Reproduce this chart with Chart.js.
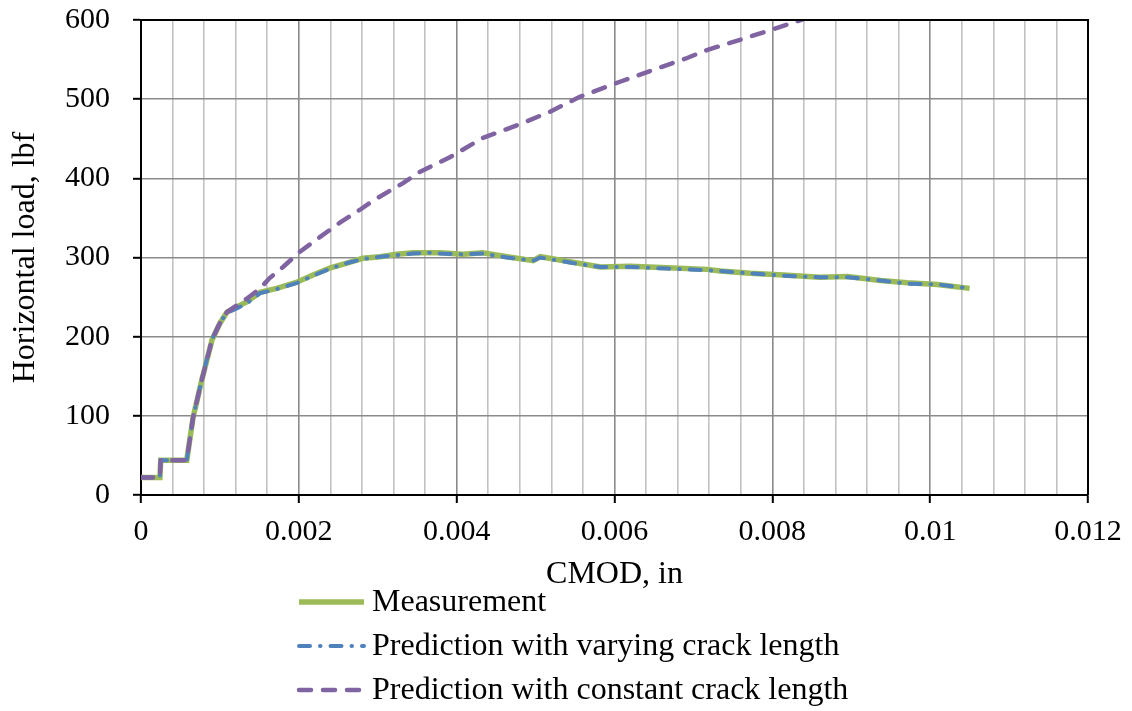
<!DOCTYPE html>
<html>
<head>
<meta charset="utf-8">
<script src="https://cdn.jsdelivr.net/npm/chart.js@4.4.1/dist/chart.umd.min.js"></script>
<style>
  html, body { margin: 0; padding: 0; background: #fff; }
  #wrap { width: 1132px; height: 711px; }
</style>
</head>
<body>
<div id="wrap"><canvas id="line-chart" width="1132" height="711"></canvas></div>
<script>
// CMOD (in) and horizontal load (lbf)
var measX = [0, 0.00024, 0.00025, 0.00058, 0.00066, 0.00077, 0.0009, 0.001, 0.00109, 0.00122, 0.00134, 0.00151, 0.00172, 0.00198, 0.00218, 0.0024, 0.00261, 0.00281, 0.00303, 0.00324, 0.00345, 0.00366, 0.00379, 0.00408, 0.00433, 0.00464, 0.00497, 0.00506, 0.00547, 0.00582, 0.0062, 0.00667, 0.00717, 0.00734, 0.00772, 0.00814, 0.0086, 0.00895, 0.00937, 0.00971, 0.01009, 0.0105];
var measY = [22, 22, 44, 44, 98, 145, 196, 217, 231, 238, 244, 256, 261, 269, 278, 287, 293, 299, 301, 304, 306, 306, 306, 304, 306, 301, 296, 301, 294, 288, 289, 287, 285, 283, 280, 278, 275, 276, 271, 268, 266, 261];

var varyX = measX;
var varyY = [22, 22, 44, 44, 98, 146, 197, 218, 230, 236, 242, 255, 260, 268, 277, 286, 293, 298, 301, 303, 305, 306, 305, 304, 305, 300, 296, 300, 293, 288, 288, 286, 284, 283, 280, 277, 275, 275, 271, 267, 266, 261];

var constX = [0, 0.00024, 0.00025, 0.00058, 0.00066, 0.00077, 0.0009, 0.001, 0.00109, 0.00122, 0.00134, 0.00151, 0.00163, 0.0018, 0.00201, 0.00227, 0.00252, 0.00277, 0.00296, 0.00332, 0.00353, 0.00392, 0.00433, 0.00455, 0.00484, 0.00518, 0.00556, 0.00607, 0.00649, 0.00692, 0.00717, 0.00759, 0.00797, 0.00845];
var constY = [22, 22, 44, 44, 98, 145, 196, 217, 231, 240, 248, 261, 274, 288, 307, 326, 344, 360, 373, 394, 408, 427, 451, 459, 470, 484, 503, 522, 537, 552, 562, 575, 587, 603];

var seriesNames = ["Measurement", "Prediction with varying crack length", "Prediction with constant crack length"];
var xTickLabels = ["0", "0.002", "0.004", "0.006", "0.008", "0.01", "0.012"];

function toPoints(xs, ys){
    var pts = [];
    for (let i = 0; i < xs.length; i++){
        pts.push({x: xs[i], y: ys[i]});
    }
    return pts;
}

Chart.defaults.font.family = '"Liberation Serif", "Times New Roman", serif';
Chart.defaults.color = '#000';

// legend drawn as a column under the axis, like the original
var legendRows = [602, 646, 690];
var columnLegend = {
    id: 'columnLegend',
    afterDraw: function(chart){
        let ctx = chart.ctx;
        chart.data.datasets.forEach(function(ds, i){
            let y = legendRows[i];
            ctx.save();
            ctx.strokeStyle = ds.borderColor;
            ctx.lineWidth = ds.borderWidth;
            ctx.lineCap = ds.borderCapStyle || 'butt';
            ctx.setLineDash(ds.borderDash || []);
            ctx.beginPath();
            ctx.moveTo(299, y);
            ctx.lineTo(364, y);
            ctx.stroke();
            ctx.setLineDash([]);
            ctx.fillStyle = '#000';
            ctx.font = '32px "Liberation Serif"';
            ctx.textBaseline = 'middle';
            ctx.fillText(ds.label, 372, y + 1);
            ctx.restore();
        });
    }
};

// black frame on top and right of the plot area
var frame = {
    id: 'frame',
    afterDatasetsDraw: function(chart){
        let a = chart.chartArea, ctx = chart.ctx;
        ctx.save();
        ctx.strokeStyle = '#000';
        ctx.lineWidth = 2;
        ctx.beginPath();
        ctx.moveTo(a.left, a.top);
        ctx.lineTo(a.right, a.top);
        ctx.lineTo(a.right, a.bottom);
        ctx.stroke();
        ctx.restore();
    }
};

new Chart(document.getElementById("line-chart"), {
    type: 'line',
    data: {
        datasets: [{
            label: seriesNames[0],
            data: toPoints(measX, measY),
            borderColor: '#9BBB59',
            borderWidth: 5.5,
            pointRadius: 0,
            fill: false,
            order: 3
        }, {
            label: seriesNames[1],
            data: toPoints(varyX, varyY),
            borderColor: '#4F81BD',
            borderWidth: 4,
            borderDash: [11, 10, 0.5, 10],
            borderCapStyle: 'round',
            pointRadius: 0,
            fill: false,
            order: 2
        }, {
            label: seriesNames[2],
            data: toPoints(constX, constY),
            borderColor: '#8064A2',
            borderWidth: 4.5,
            borderDash: [12, 12],
            borderCapStyle: 'round',
            pointRadius: 0,
            fill: false,
            order: 1
        }]
    },
    options: {
        responsive: false,
        animation: false,
        layout: { padding: { left: 0, right: 44, top: 20, bottom: 117 } },
        plugins: {
            legend: { display: false },
            tooltip: { enabled: false }
        },
        scales: {
            x: {
                type: 'linear',
                min: 0,
                max: 0.012,
                afterFit: function(scale){
                    scale.height = 99;
                    scale.paddingLeft = 0;
                    scale.paddingRight = 0;
                },
                border: { color: '#000', width: 2 },
                grid: {
                    color: function(c){ return c.index % 5 === 0 ? '#8A8A8A' : '#C2C2C2'; },
                    lineWidth: 1.6,
                    tickLength: 8,
                    tickColor: function(c){ return c.index % 5 === 0 ? '#000' : 'rgba(0,0,0,0)'; },
                    tickWidth: 2
                },
                ticks: {
                    stepSize: 0.0004,
                    autoSkip: false,
                    maxRotation: 0,
                    padding: 11,
                    font: { size: 30 },
                    callback: function(value, index){
                        return index % 5 === 0 ? xTickLabels[index / 5] : '';
                    }
                },
                title: {
                    display: true,
                    text: 'CMOD, in',
                    font: { size: 32 },
                    padding: 0
                }
            },
            y: {
                min: 0,
                max: 600,
                afterFit: function(scale){
                    scale.width = 141;
                    scale.paddingTop = 0;
                    scale.paddingBottom = 0;
                },
                border: { color: '#000', width: 2 },
                grid: {
                    color: '#8A8A8A',
                    lineWidth: 1.6,
                    tickLength: 8,
                    tickColor: '#000',
                    tickWidth: 2
                },
                ticks: {
                    stepSize: 100,
                    padding: 23,
                    font: { size: 30 }
                },
                title: {
                    display: true,
                    text: 'Horizontal load, lbf',
                    font: { size: 32 },
                    padding: { top: 6, bottom: 0 }
                }
            }
        }
    },
    plugins: [columnLegend, frame]
});
</script>
</body>
</html>
